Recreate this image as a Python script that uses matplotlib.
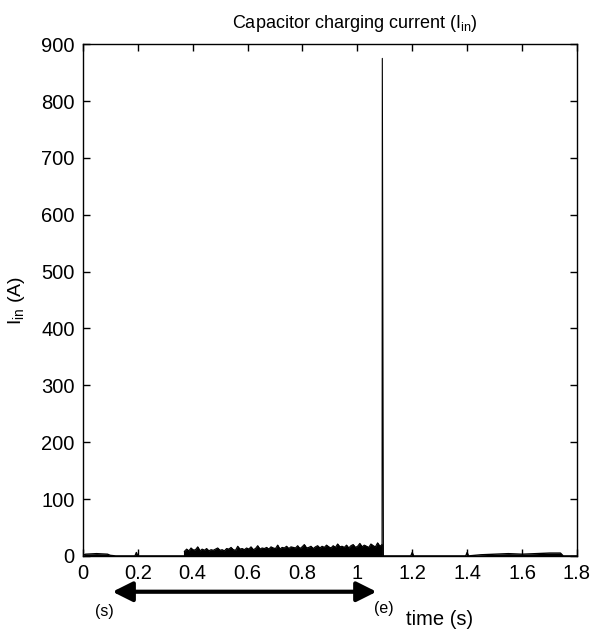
import numpy as np
import matplotlib
matplotlib.use("Agg")
import matplotlib.pyplot as plt

plt.rcParams['font.family'] = ['Liberation Sans', 'DejaVu Sans']

# ---- data ----
hump_t = [0.0, 0.01, 0.03, 0.05, 0.07, 0.09, 0.10, 0.12, 0.19, 0.195, 0.20, 0.37]
hump_y = [1, 3, 3.5, 4, 3.5, 3, 1, 0, 0, 6, 0, 0]

noise_start, noise_end = 0.37, 1.09
noise_env = [8, 12, 9, 14, 10, 11, 16, 9, 12, 10,
             13, 9, 11, 10, 12, 14, 10, 11, 9, 13,
             12, 15, 11, 10, 17, 12, 13, 11, 14, 12,
             16, 11, 13, 18, 12, 14, 13, 15, 12, 16,
             14, 13, 19, 12, 15, 14, 17, 13, 16, 15,
             14, 18, 13, 16, 20, 14, 15, 17, 13, 16,
             18, 14, 17, 15, 19, 16, 14, 18, 15, 21,
             16, 17, 15, 19, 14, 18, 20, 15, 17, 22,
             16, 19, 17, 15, 21, 18, 16, 23, 17, 20]

spike_t = [1.09, 1.091, 1.095]
spike_y = [0, 875, 0]

tail_t = [1.095, 1.195, 1.2, 1.205, 1.395, 1.4, 1.405, 1.45, 1.5, 1.55, 1.6, 1.65, 1.7, 1.74, 1.75, 1.8]
tail_y = [0, 0, 6, 0, 0, 6, 0, 2, 3, 4, 3, 4, 5, 5, 0, 0]

xticks = [0, 0.2, 0.4, 0.6, 0.8, 1, 1.2, 1.4, 1.6, 1.8]
xticklabels = ['0', '0.2', '0.4', '0.6', '0.8', '1', '1.2', '1.4', '1.6', '1.8']
yticks = [0, 100, 200, 300, 400, 500, 600, 700, 800, 900]

# ---- figure ----
fig = plt.figure(figsize=(5.96, 6.31), dpi=100)
ax = fig.add_axes([0.139, 0.119, 0.829, 0.811])

noise_t = np.linspace(noise_start, noise_end, len(noise_env))

ax.plot(hump_t, hump_y, color='black', lw=1.0)
ax.fill_between(hump_t, 0, hump_y, color='black', lw=0)
ax.fill_between(noise_t, 0, noise_env, color='black', lw=0.5)
ax.plot(noise_t, noise_env, color='black', lw=0.8)
ax.plot([0.37, 0.37], [0, noise_env[0]], color='black', lw=0.8)
ax.plot(spike_t, spike_y, color='black', lw=0.8)
ax.plot(tail_t, tail_y, color='black', lw=1.0)
ax.fill_between(tail_t, 0, tail_y, color='black', lw=0)

ax.set_xlim(0, 1.8)
ax.set_ylim(0, 900)
ax.set_xticks(xticks)
ax.set_xticklabels(xticklabels)
ax.set_yticks(yticks)
ax.tick_params(direction='in', top=True, right=True, labelsize=14.5, length=5, width=1, pad=6)
for s in ax.spines.values():
    s.set_linewidth(1.0)

ax.set_ylabel(r'I$_{\mathregular{in}}$ (A)', fontsize=14, labelpad=10)

fig.text(0.595, 0.962, r'Capacitor charging current (I$_{\mathregular{in}}$)',
         ha='center', va='center', fontsize=13)

tr = ax.get_xaxis_transform()
ax.annotate('', xy=(0.108, -0.070), xytext=(1.07, -0.070), xycoords=tr, textcoords=tr,
            arrowprops=dict(arrowstyle='<|-|>', color='black', lw=3,
                            mutation_scale=30, shrinkA=0, shrinkB=0),
            annotation_clip=False)
ax.text(0.08, -0.109, '(s)', transform=tr, ha='center', va='center', fontsize=11.5)
ax.text(1.095, -0.102, '(e)', transform=tr, ha='center', va='center', fontsize=11.5)
ax.text(1.30, -0.125, 'time (s)', transform=tr, ha='center', va='center', fontsize=14.5)

fig.savefig('out.png', dpi=100, facecolor='white')
